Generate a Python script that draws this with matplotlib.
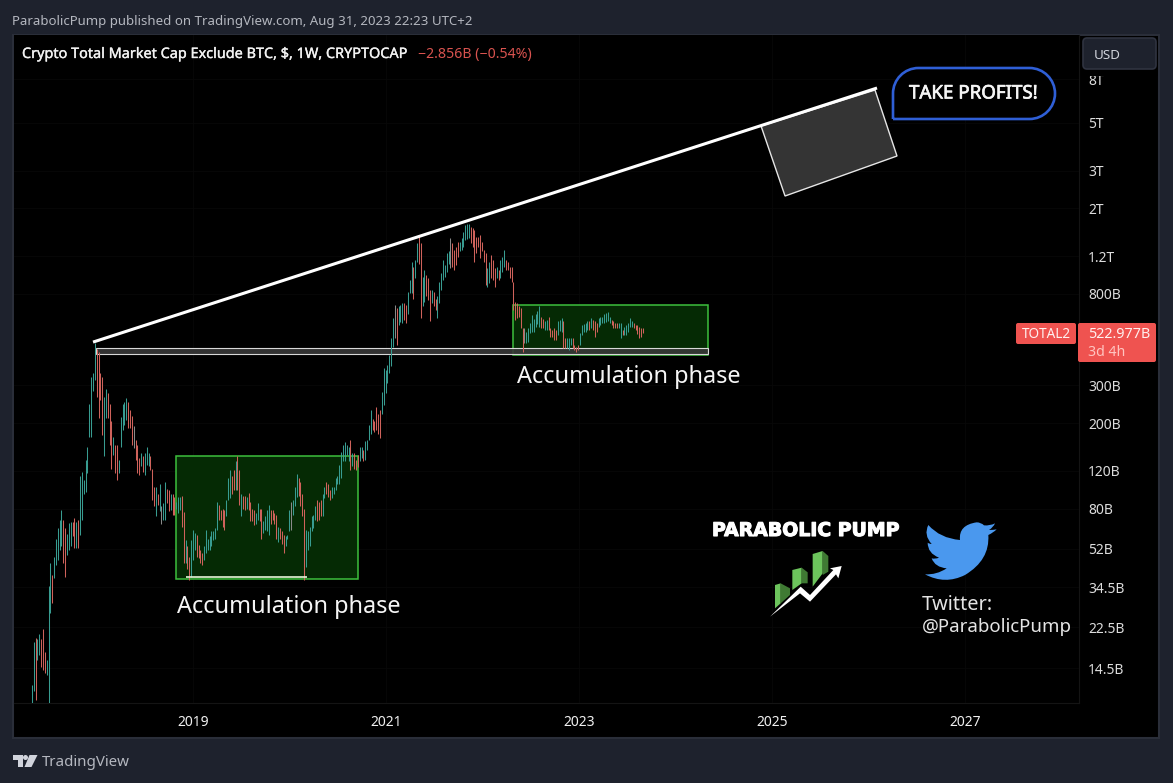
import numpy as np
import matplotlib
matplotlib.use("Agg")
import matplotlib.pyplot as plt
from matplotlib.patches import Rectangle, Polygon, PathPatch, FancyBboxPatch, Circle
from matplotlib.path import Path
from matplotlib.ticker import NullLocator
import matplotlib.patheffects as pe

plt.rcParams['font.family'] = ['Noto Sans', 'DejaVu Sans']

# ---- weekly bars of TOTAL2, in billions of USD ----
highs_a = [12.1,19.1,20.1,19.9,20.9,19.9,22.0,17.3,15.8,34.8,44.6,39.2,47.8,58,64.8,70.8,79,70.8,64.8,61,68.4,69.6,69.6,72.3,69.6,70.8]
lows_a  = [9.0,11.3,10.3,15.8,16.7,14.7,14.2,13.7,13.5,10,26.1,29.1,37.9,43.9,46.3,51.6,53.4,44.6,38.6,48.7,51.6,53.4,59.4,52.5,52.5,52.5]
dirs_a  = "uuduuddd" "u" "uuduuuuudduuuddud"

highs_b = [113,119,109,135,155,247,329,341,472,445,428,341,329,266,289,275,247,204,173,158,158,135,213,247,252]
lows_b  = [60.4,70.8,94,96,117,173,173,281,318,266,211,257,176,141,211,211,158,123,142,117,109,117,155,186,196]
dirs_b  = "uuuuuuuuu" "dddd" "uu" "ddd" "u" "dd" "uuuu"

highs_c = [261,252,230,215,195,167,158,137,145,140,145,155,145,140,123,101,101,94,104,82,85,107,99,98,94,94,91,86,91,91]
lows_c  = [207,190,190,158,153,135,117,115,126,119,115,128,126,121,88,82,74,83,78,68,71,71,85,78,79,75,75,80,76,79]
dirs_c  = "udddgddd" "uduuu" "ddd" "udu" "guu" "dd" "u" "dd" "uuu"

highs_d = [92,77,57,53.4,47.8,57,64,61.5,60.4,54.3,51.6,49.5,53.4,64,58,59.4,62.7,62.7,64.8,86,83,79,80,79,88,111,121,113]
lows_d  = [66,44.6,44.6,41.9,37.3,38.6,46.3,51.6,47.8,47,44.6,43.9,46.3,49.5,51.6,51.6,53.4,57,58,64,70.8,70.8,66,64,74,88,90,94]
dirs_d  = "dd" "u" "dd" "uuu" "dddd" "uuuuuuuu" "dddd" "uuu" "d"

highs_e = [121,133,141,121,94,92,92,91,95,86,80,79,76,85,80,80,70,74,79,83,79,79,76,75,66,65,62.7,60.4,59.4,60.4]
lows_e  = [98,98,98,83,74,80,79,80,79,70,70,67,68,71,70,58,61.5,64,62.7,60.4,68,71,68,58,56,58,55,50,53.4,58]
dirs_e  = "dudd" "udd" "u" "dddd" "uu" "dd" "uu" "uu" "dddd" "u" "ddd" "uu"

highs_f = [79,86,88,101,116,111,106,94,80,64,62.7,66,74,75,82,88,86,88,94,101,106,104,98,101,101,111,113,128,147,158,164,158,155,167,145,145,135]
lows_f  = [62.7,64,75,82,91,92,82,74,37.3,42.7,51.6,53.4,62.7,65,71,70,71,74,74,90,94,91,88,90,94,98,104,104,111,133,133,142,133,121,126,123,121]
dirs_f  = "ug" "uuu" "dddd" "uuuuuu" "ddd" "uu" "ddd" "uuu" "u" "uuuuu" "u" "dudd"

highs_g = [142,155,155,150,165,167,197,230,210,205,239,221,230,280,362,355,374,417,497,616,712,685,699,712,727,727,712,820,927,1128,1070,1150,1375,1503,1375,962]
lows_g  = [125,133,137,133,135,150,167,179,186,182,186,179,170,221,243,275,307,342,369,454,497,462,574,590,584,605,584,648,805,805,760,945,1128,1107,616,699]
dirs_g  = "duuduuuu" "ddddd" "uuuuuuu" "gd" "uuu" "dd" "uuu" "d" "uu" "dd" "u"

highs_h = [1034,978,945,835,835,820,760,778,910,996,1150,1090,1234,1260,1452,1375,1280,1325,1400,1400,1452,1560,1675,1690,1700,1644,1615,1585,1476,1476,1503,1400,1280,1234,1053,1130]
lows_h  = [736,778,750,595,727,699,673,616,727,835,927,960,1010,1107,1053,1070,1034,1093,1190,1260,1280,1325,1425,1440,1452,1375,1325,1128,1234,1325,1170,1260,1128,882,862,900]
dirs_h  = "u" "ddd" "u" "dd" "uuuu" "u" "uu" "g" "dddd" "uuuuuu" "ddddddddd" "uu"

highs_i = [1210,1150,1053,1070,1034,1150,1190,1280,1150,1128,1070,1070,910,736,727,699,685,552,552,533,552,584,637,610,648,665,699,627,610,595,605,627,552,543,552,543,595,605,616,595]
lows_i  = [945,927,862,945,927,945,1010,1070,1034,1034,945,910,673,605,616,627,552,430,471,471,480,524,533,530,563,580,563,552,555,543,545,543,506,506,489,489,515,540,533,446]
dirs_i  = "ddd" "u" "d" "uuu" "ddddd" "ddddd" "g" "uuuu" "u" "u" "u" "u" "d" "d" "u" "u" "d" "dddd" "u" "u" "u" "d"

highs_j = [497,497,497,497,497,462,454,462,524,574,580,584,595,595,616,605,595,584,616,627,627,648,655,660,627,605,595,584,584,584,584,543,560,574,584,616,595,584,574,570,563,552,552]
lows_j  = [446,450,438,462,446,438,430,438,462,515,530,533,543,543,552,543,506,533,563,574,584,584,590,595,584,574,552,552,552,552,497,515,515,515,533,563,563,552,543,520,497,506,524]
dirs_j  = "d" "uu" "u" "dddd" "uuuu" "u" "d" "u" "ddd" "uuuuuuu" "ddd" "d" "uu" "d" "uuuuu" "ddd" "d" "ddd"

segments = [(highs_a, lows_a, dirs_a), (highs_b, lows_b, dirs_b), (highs_c, lows_c, dirs_c), (highs_d, lows_d, dirs_d),
            (highs_e, lows_e, dirs_e), (highs_f, lows_f, dirs_f), (highs_g, lows_g, dirs_g), (highs_h, lows_h, dirs_h),
            (highs_i, lows_i, dirs_i), (highs_j, lows_j, dirs_j)]
highs, lows, dirs = [], [], ""
for h_, l_, d_ in segments:
    m = min(len(h_), len(l_))
    highs += h_[:m]; lows += l_[:m]
    dirs += (d_ + "d" * m)[:m]
n = len(highs)

first_bar_year = 2017.33
last_bar_year = 2023.663

y_ticks = [8000,5000,3000,2000,1200,800,300,200,120,80,52,34.5,22.5,14.5]
y_labels = ["8T","5T","3T","2T","1.2T","800B","300B","200B","120B","80B","52B","34.5B","22.5B","14.5B"]
x_ticks = [2019,2021,2023,2025,2027]

# drawn annotations, in (year, billions)
trend_x = [2017.964, 2026.088]
trend_y = [477, 7264]
box1_x = [2018.824, 2020.71]; box1_y = [37.6, 141]
box2_x = [2022.316, 2024.337]; box2_y = [415, 710]
band_x = [2017.99, 2024.337]; band_y = [420, 450]
floor_x = [2018.927, 2020.181]; floor_y = 38.6
tilted_x = [2024.886, 2026.067, 2026.295, 2025.135]
tilted_y = [4835, 7110, 3505, 2283]

W, H = 1173, 783
fig = plt.figure(figsize=(W/100, H/100), dpi=100, facecolor='#1e222d')

def px_axes(z):
    a = fig.add_axes([0, 0, 1, 1], zorder=z)
    a.set_xlim(0, W); a.set_ylim(H, 0); a.axis('off'); a.patch.set_alpha(0)
    return a

bg = px_axes(0)
bg.add_patch(Rectangle((13, 35), 1146, 703, fc='black', ec='#2a2e39', lw=1.5))

L, R, T, B = 14, 1079, 35, 703
ax = fig.add_axes([L/W, 1-B/H, (R-L)/W, (B-T)/H], zorder=1, facecolor='black')
ax.set_yscale('log')
ax.set_xlim(2017.145, 2028.181)
ax.set_ylim(9.97, 12820)
ax.yaxis.tick_right()
ax.set_yticks(y_ticks, y_labels)
ax.yaxis.set_minor_locator(NullLocator())
ax.set_xticks(x_ticks, [str(t) for t in x_ticks])
ax.tick_params(axis='y', length=0, pad=6.5, labelsize=10, labelcolor='#dcdcdc')
ax.tick_params(axis='x', length=0, pad=9, labelsize=10, labelcolor='#f0f0f0')
for t in ax.get_xticklabels():
    t.set_fontweight('bold')
for s in ax.spines.values():
    s.set_visible(False)
ax.spines['right'].set_visible(True); ax.spines['right'].set_color('#141414')
ax.spines['bottom'].set_visible(True); ax.spines['bottom'].set_color('#141414')
ax.grid(True, color='#080808', lw=0.6)
ax.set_axisbelow(True)

# green accumulation boxes
for bx, by in ((box1_x, box1_y), (box2_x, box2_y)):
    ax.add_patch(Rectangle((bx[0], by[0]), bx[1]-bx[0], by[1]-by[0], fc='#052a04', ec='#3dbf3d', lw=1.1, zorder=1.5))
# horizontal grey band
ax.add_patch(Rectangle((band_x[0], band_y[0]), band_x[1]-band_x[0], band_y[1]-band_y[0],
                       fc=(0.22, 0.22, 0.22, 0.9), ec='#d8d8d8', lw=0.8, zorder=1.8))

# weekly bars
xs = np.linspace(first_bar_year, last_bar_year, n)
palette = {'u': '#389c91', 'd': '#cf625b', 'g': '#8a8a8a'}
ax.vlines(xs, lows, highs, colors=[palette[d] for d in dirs], lw=0.75, zorder=3)

ax.hlines(floor_y, floor_x[0], floor_x[1], color='#e8f5d8', lw=1.2, zorder=3.5)
ax.plot(trend_x, trend_y, color='white', lw=2.2, solid_capstyle='butt', zorder=5)
ax.add_patch(Polygon(np.c_[tilted_x, tilted_y], closed=True, fc='#343434', ec='#e6e6e6', lw=1.0, zorder=4))

fg = px_axes(5)
renderer = fig.canvas.get_renderer()

def fit(a, s, x0, x1, yc, color, weight='normal', **kw):
    t = a.text(x0, yc + 1.5, s, color=color, fontsize=10, fontweight=weight, va='center', ha='left', **kw)
    w = t.get_window_extent(renderer).width
    t.set_fontsize(10 * (x1 - x0) / w)
    return t

def heavier(t, amount=0.35):
    t.set_path_effects([pe.withStroke(linewidth=amount, foreground=t.get_color())])
    return t

fit(fg, "ParabolicPump published on TradingView.com, Aug 31, 2023 22:23 UTC+2", 12, 471, 19.5, '#b4b7bf')
heavier(fit(fg, "Crypto Total Market Cap Exclude BTC, $, 1W, CRYPTOCAP", 22, 408, 53, '#f2f2f2'), 0.25)
fit(fg, "\u22122.856B (\u22120.54%)", 418, 531, 53, '#d9534f')
fit(fg, "Accumulation phase", 177, 401, 605.5, '#f5f5f5')
fit(fg, "Accumulation phase", 517, 741, 375.5, '#f5f5f5')
fit(fg, "Twitter:", 922, 993, 604, '#e4e4e4')
fit(fg, "@ParabolicPump", 922, 1072, 625, '#e4e4e4')
fit(fg, "TradingView", 42, 130, 761, '#b4b7bf')

# USD button, and the strip under it that trims the top tick label
fg.add_patch(Rectangle((1081, 36), 77, 39.5, fc='black', ec='none'))
fg.add_patch(FancyBboxPatch((1085, 40), 69, 27, boxstyle="round,pad=2,rounding_size=4", fc='#1e222d', ec='#2f3340', lw=1.2))
fit(fg, "USD", 1094, 1121, 54, '#d1d4dc')

# callout
x0, x1, y0, y1 = 893, 1055, 68, 119
r = 25.5; k = r * 0.5523
verts = [(x0, y1), (x0, y0+r), (x0, y0+r-k), (x0+r-k, y0), (x0+r, y0), (x1-r, y0), (x1-r+k, y0), (x1, y0+r-k), (x1, y0+r),
         (x1, y1-r+k), (x1-r+k, y1), (x1-r, y1), (x0, y1)]
codes = [Path.MOVETO, Path.LINETO, Path.CURVE4, Path.CURVE4, Path.CURVE4, Path.LINETO, Path.CURVE4, Path.CURVE4, Path.CURVE4,
         Path.CURVE4, Path.CURVE4, Path.CURVE4, Path.LINETO]
fg.add_patch(PathPatch(Path(verts, codes), fc='black', ec='#2f5fd6', lw=1.9))
heavier(fit(fg, "TAKE PROFITS!", 909, 1038, 92, '#f5f5f5'), 0.5)

# price labels
fg.add_patch(FancyBboxPatch((1017, 324), 58, 19, boxstyle="round,pad=1,rounding_size=2", fc='#ef5350', ec='none'))
fit(fg, "TOTAL2", 1022, 1071, 333, '#fff0ef')
fg.add_patch(FancyBboxPatch((1079, 324), 76, 37, boxstyle="round,pad=1,rounding_size=2", fc='#ef5350', ec='none'))
fit(fg, "522.977B", 1088, 1150, 333, '#fff0ef')
fit(fg, "3d 4h", 1088, 1125, 351, '#ffc4c0')

# TradingView mark
for poly in ([(13,755),(23,755),(23,767),(17.5,767),(17.5,759.5),(13,759.5)],
             [(29.5,755),(37.5,755),(31.5,767),(24.5,767)]):
    fg.add_patch(Polygon(poly, fc='#d1d4dc', ec='none'))
fg.add_patch(Circle((25.5, 757.5), 2.5, fc='#d1d4dc', ec='none'))

# Parabolic Pump logo
heavier(fit(fg, "PARABOLIC PUMP", 712, 900, 529, 'white', weight='bold', family='DejaVu Sans'), 0.8)
def z9(pts):
    return [(760 + x/3, 540 + y/3) for x, y in pts]
for pts, c in (([(45,135),(62,130),(62,190),(45,205)], '#6cc45c'),
               ([(62,130),(90,145),(90,165),(62,190)], '#3f7a33'),
               ([(97,90),(125,83),(125,130),(97,150)], '#6cc45c'),
               ([(125,83),(143,97),(143,130),(125,130)], '#3f7a33'),
               ([(158,42),(188,33),(188,100),(158,140)], '#6cc45c'),
               ([(188,33),(205,48),(205,95),(188,105)], '#3f7a33'),
               ([(30,230),(122,140),(150,165),(220,90),(210,85),(245,78),(235,115),(228,103),(150,185),(120,160)], 'white')):
    fg.add_patch(Polygon(z9(pts), fc=c, ec='none'))

# bird
bird_moves = [((75,85),(135,90)), ((130,45),(185,37)), ((198,37),(207,46)), ((225,48),(240,40)), ((235,52),(222,60)),
              ((235,60),(245,58)), ((235,68),(220,75)), ((225,150),(150,195)), ((90,225),(30,193)), ((65,195),(95,175)),
              ((60,172),(50,145)), ((60,148),(72,143)), ((38,130),(38,98)), ((43,102),(50,102)), ((25,75),(40,45))]
bv = [(40,45)]; bc = [Path.MOVETO]
for ctrl, end in bird_moves:
    bv += [ctrl, end]; bc += [Path.CURVE3, Path.CURVE3]
bv = [(915 + x/3, 510 + y/3) for x, y in bv]
fg.add_patch(PathPatch(Path(bv, bc), fc='#4a98ee', ec='none'))

fig.savefig('out.png', dpi=100, facecolor=fig.get_facecolor())
